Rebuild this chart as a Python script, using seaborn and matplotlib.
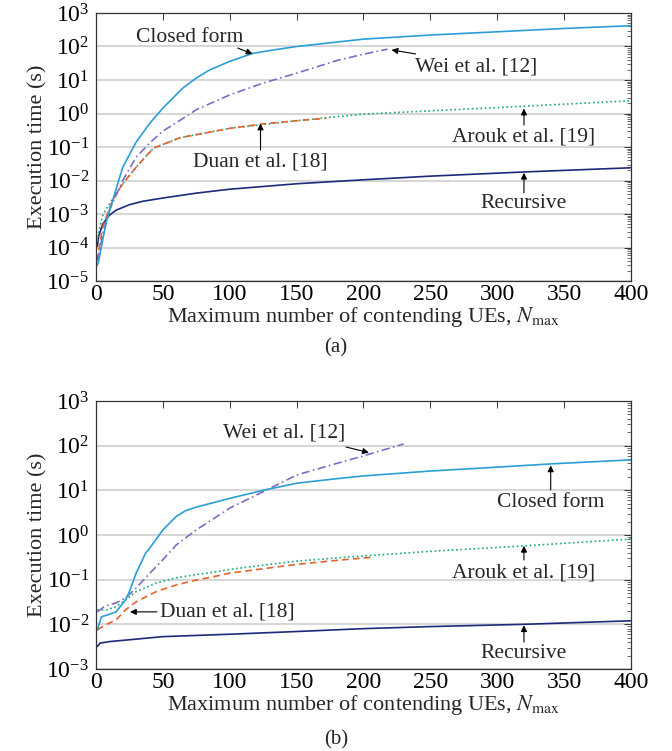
import numpy as np
import pandas as pd
import matplotlib
matplotlib.use('Agg')
import matplotlib.pyplot as plt
import seaborn as sns
from matplotlib.ticker import LogLocator, NullFormatter, MultipleLocator

# ---- data, panel (a) ----
a_closed_n = [1, 2, 5, 8, 13, 20, 30, 40, 50, 55, 65, 75, 85, 100, 117, 130, 150, 200, 250, 300, 350, 400]
a_closed_t = [3e-5, 4e-5, 1.7e-4, 6.6e-4, 3e-3, 2.5e-2, 0.14, 0.5, 1.45, 2.3, 5.8, 11.5, 20, 36, 62, 76, 100,
              166, 220, 275, 345, 417]

a_wei_n = [1, 2, 5, 10, 20, 30, 40, 50, 59, 75, 100, 125, 150, 180, 200, 218]
a_wei_t = [4e-5, 6e-5, 2.5e-4, 1.3e-3, 1e-2, 0.05, 0.13, 0.3, 0.5, 1.3, 3.6, 8.1, 16, 38, 59, 83]

a_duan_n = [1, 2, 5, 10, 15, 20, 30, 43, 63, 100, 125, 150, 172]
a_duan_t = [4e-5, 8e-5, 4e-4, 1.5e-3, 4e-3, 8e-3, 0.025, 0.093, 0.19, 0.36, 0.49, 0.61, 0.72]

a_arouk_n = [1, 2, 5, 8, 15, 20, 30, 43, 63, 100, 150, 200, 250, 300, 350, 400]
a_arouk_t = [1.5e-4, 3e-4, 9e-4, 1.5e-3, 4e-3, 8e-3, 0.025, 0.093, 0.19, 0.36, 0.61, 0.96, 1.2, 1.5, 1.9, 2.4]

a_rec_n = [1, 2, 5, 10, 15, 25, 35, 50, 75, 100, 150, 200, 250, 320, 400]
a_rec_t = [1.1e-4, 2.2e-4, 5e-4, 9.3e-4, 1.3e-3, 1.9e-3, 2.4e-3, 3.0e-3, 4.2e-3, 5.5e-3, 8.0e-3, 0.0105,
           0.0135, 0.018, 0.024]

# ---- data, panel (b) ----
b_closed_n = [1, 4, 8, 15, 22, 25, 30, 37, 40, 50, 60, 67, 75, 100, 125, 150, 180, 200, 250, 300, 340, 400]
b_closed_t = [0.0075, 0.0148, 0.016, 0.019, 0.035, 0.054, 0.14, 0.39, 0.5, 1.3, 2.6, 3.5, 4.2, 6.6, 10, 14.4,
              18.2, 21, 27, 33, 39, 48]

b_wei_n = [1, 7, 15, 22, 30, 37, 50, 60, 75, 100, 125, 150, 180, 200, 230]
b_wei_t = [0.019, 0.026, 0.03, 0.039, 0.065, 0.11, 0.28, 0.6, 1.3, 4.0, 9.3, 22, 40, 59, 109]

b_duan_n = [1, 7, 15, 22, 30, 45, 60, 75, 90, 100, 150, 180, 208]
b_duan_t = [0.0075, 0.0097, 0.0125, 0.021, 0.032, 0.054, 0.076, 0.098, 0.12, 0.14, 0.22, 0.27, 0.32]

b_arouk_n = [1, 8, 15, 22, 30, 45, 60, 75, 90, 100, 150, 200, 250, 320, 400]
b_arouk_t = [0.021, 0.021, 0.025, 0.035, 0.054, 0.084, 0.11, 0.13, 0.15, 0.17, 0.26, 0.34, 0.43, 0.57, 0.81]

b_rec_n = [1, 3, 10, 50, 100, 150, 200, 250, 320, 400]
b_rec_t = [0.0032, 0.0038, 0.0041, 0.0053, 0.006, 0.0069, 0.008, 0.0089, 0.01, 0.012]

c_closed = '#2a9fd6'
c_wei = '#7e6cc4'
c_duan = '#e4632d'
c_arouk = '#1aaa80'
c_rec = '#1b2a7a'

sns.set_style("white")
plt.rcParams['font.family'] = ['Liberation Serif', 'DejaVu Serif']
plt.rcParams['mathtext.fontset'] = 'stix'
fs_tick = 17
fs_lab = 16
fs_ann = 15.5

fig = plt.figure(figsize=(6.72, 7.51), dpi=100)
ax_a = fig.add_axes([0.1429, 0.6258, 0.796, 0.3569])
ax_b = fig.add_axes([0.1429, 0.1092, 0.796, 0.3569])


def draw(ax, n, t, color, ls):
    df = pd.DataFrame({'N': n, 't': t})
    sns.lineplot(data=df, x='N', y='t', ax=ax, color=color, lw=1.2, estimator=None)
    if ls:
        ax.lines[-1].set_dashes(ls)


series_a = [
    (a_rec_n, a_rec_t, c_rec, None),
    (a_arouk_n, a_arouk_t, c_arouk, (1, 1.6)),
    (a_duan_n, a_duan_t, c_duan, (4, 2.5)),
    (a_wei_n, a_wei_t, c_wei, (5, 2, 1, 2)),
    (a_closed_n, a_closed_t, c_closed, None),
]
series_b = [
    (b_rec_n, b_rec_t, c_rec, None),
    (b_arouk_n, b_arouk_t, c_arouk, (1, 1.6)),
    (b_duan_n, b_duan_t, c_duan, (4, 2.5)),
    (b_wei_n, b_wei_t, c_wei, (5, 2, 1, 2)),
    (b_closed_n, b_closed_t, c_closed, None),
]

for ax, series, ylo in [(ax_a, series_a, 1e-5), (ax_b, series_b, 1e-3)]:
    ax.set_yscale('log')
    for n, t, col, ls in series:
        draw(ax, n, t, col, ls)
    ax.set_xlim(0, 400)
    ax.set_ylim(ylo, 1e3)
    ax.xaxis.set_major_locator(MultipleLocator(50))
    ax.yaxis.set_major_locator(LogLocator(base=10, numticks=20))
    ax.yaxis.set_minor_locator(LogLocator(base=10, subs=np.arange(2, 10), numticks=20))
    ax.yaxis.set_minor_formatter(NullFormatter())
    ax.grid(axis='y', which='major', color='#cfcfcf', lw=1.2)
    ax.set_axisbelow(True)
    ax.tick_params(which='both', direction='in', top=True, right=True, labelsize=fs_tick,
                   colors='#333333', labelcolor='black')
    ax.tick_params(which='major', length=5, width=0.7)
    ax.tick_params(axis='x', which='major', pad=2)
    ax.tick_params(axis='y', which='major', pad=5)
    ax.tick_params(which='minor', length=3, width=0.5)
    for s in ax.spines.values():
        s.set_color('#333333')
        s.set_linewidth(0.9)
    ax.set_xlabel(r'Maximum number of contending UEs, $N_{\mathrm{max}}$', fontsize=fs_lab, labelpad=0)
    ax.set_ylabel('Execution time (s)', fontsize=fs_lab, labelpad=-1)

arr = dict(arrowstyle='-|>', color='black', lw=0.8, mutation_scale=9, shrinkA=0, shrinkB=0)


def label(ax, text, xy_text, tail, tip):
    ax.text(xy_text[0], xy_text[1], text, fontsize=fs_ann, ha='center', va='center')
    ax.annotate('', xy=tip, xytext=tail, arrowprops=arr)


# panel (a) annotations
label(ax_a, 'Closed form', (70, 190), (106, 90), (117, 60))
label(ax_a, 'Wei et al. [12]', (284, 24.5), (239, 60), (221, 79))
label(ax_a, 'Arouk et al. [19]', (320, 0.2), (320, 0.45), (320, 1.4))
label(ax_a, 'Recursive', (320, 2.1e-3), (320, 4.3e-3), (320, 0.017))
label(ax_a, 'Duan et al. [18]', (123, 0.035), (123, 0.081), (123, 0.5))

# panel (b) annotations
label(ax_b, 'Wei et al. [12]', (141, 192), (187, 93), (204, 70))
label(ax_b, 'Closed form', (340, 5.2), (340, 10.2), (340, 36))
label(ax_b, 'Arouk et al. [19]', (320, 0.141), (320, 0.275), (320, 0.57))
label(ax_b, 'Recursive', (320, 2.17e-3), (320, 4.0e-3), (320, 9.5e-3))
label(ax_b, 'Duan et al. [18]', (98, 0.019), (45.6, 0.019), (25.4, 0.019))

fig.text(0.5, 1 - 348 / 751, '(a)', fontsize=fs_lab - 1, ha='center', va='center')
fig.text(0.5, 1 - 740 / 751, '(b)', fontsize=fs_lab - 1, ha='center', va='center')

fig.savefig('out.png', dpi=100)
